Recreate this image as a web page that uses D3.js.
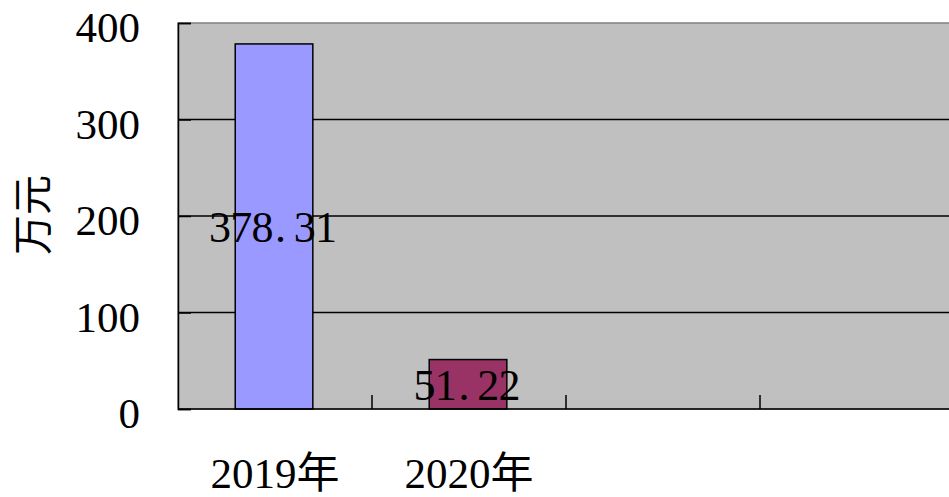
<!DOCTYPE html>
<html>
<head>
<meta charset="utf-8">
<script src="https://cdn.jsdelivr.net/npm/d3@7"></script>
<style>
  html, body { margin: 0; padding: 0; background: #fff; overflow: hidden; }
  svg { display: block; }
</style>
</head>
<body>
<svg id="chart" width="949" height="497"></svg>
<script>
// ---- data ----
const categories = ["2019年", "2020年", "", ""];
const values = [378.31, 51.22];
const valueLabels = ["378.31", "51.22"];
const barColors = ["#9999FF", "#993366"];
const yTicks = [0, 100, 200, 300, 400];
const yTitle = "万元";

// ---- layout ----
const plotL = 178, plotT = 23, plotB = 409, plotR = 954;
const FONT = "'Liberation Serif','Times New Roman','Noto Sans CJK SC',serif";
const fs = 43;
const cell = 21.2;

const svg = d3.select("#chart");

const x = d3.scaleBand().domain(d3.range(categories.length)).range([plotL, plotR]).padding(0);
const y = d3.scaleLinear().domain([0, 400]).range([plotB, plotT]);

// plot background
svg.append("rect")
  .attr("x", plotL).attr("y", plotT)
  .attr("width", plotR - plotL).attr("height", plotB - plotT)
  .attr("fill", "#C0C0C0").attr("stroke", "#808080").attr("stroke-width", 1.5);

// gridlines
svg.append("g").selectAll("line")
  .data(yTicks.filter(t => t > 0 && t < 400))
  .join("line")
  .attr("x1", plotL).attr("x2", plotR)
  .attr("y1", d => y(d)).attr("y2", d => y(d))
  .attr("stroke", "#000").attr("stroke-width", 1.5);

// bars
const bw = x.bandwidth();
svg.append("g").selectAll("rect")
  .data(values)
  .join("rect")
  .attr("x", (d, i) => x(i) + bw * 0.295)
  .attr("width", bw * 0.4)
  .attr("y", d => y(d))
  .attr("height", d => y(0) - y(d))
  .attr("fill", (d, i) => barColors[i])
  .attr("stroke", "#000").attr("stroke-width", 1.5);

// y axis
const yAxis = d3.axisLeft(y).tickValues(yTicks).tickSize(-13).tickPadding(38).tickFormat(d3.format("d"));
const gy = svg.append("g").attr("transform", `translate(${plotL},0)`).call(yAxis);
gy.select(".domain").attr("stroke", "#000").attr("stroke-width", 1.5);
gy.selectAll(".tick line").attr("stroke", "#000").attr("stroke-width", 1.5);
gy.selectAll(".tick text")
  .attr("font-family", FONT).attr("font-size", fs).attr("fill", "#000")
  .attr("dy", "0.43em");

// x axis line + boundary ticks
svg.append("line")
  .attr("x1", plotL).attr("x2", plotR).attr("y1", plotB).attr("y2", plotB)
  .attr("stroke", "#000").attr("stroke-width", 1.5);
svg.append("g").selectAll("line")
  .data(d3.range(1, categories.length))
  .join("line")
  .attr("x1", i => x(i)).attr("x2", i => x(i))
  .attr("y1", plotB).attr("y2", plotB - 14)
  .attr("stroke", "#000").attr("stroke-width", 1.5);

// x labels
const xAxis = d3.axisBottom(x).tickSize(0).tickFormat(i => categories[i]);
const gx = svg.append("g").attr("transform", `translate(0,${plotB})`).call(xAxis);
gx.select(".domain").remove();
gx.selectAll(".tick text")
  .attr("font-family", FONT).attr("font-size", fs).attr("fill", "#000")
  .attr("y", 79).attr("dy", 0);

// value labels: monospaced half-width cells
const lbl = svg.append("g");
values.forEach((v, i) => {
  const s = valueLabels[i];
  const cx = x(i) + bw / 2 - 2;
  const cy = (y(v) + y(0)) / 2;
  const x0 = cx - s.length * cell / 2;
  const t = lbl.append("text")
    .attr("font-family", FONT).attr("font-size", fs + 1).attr("fill", "#000")
    .attr("text-anchor", "middle");
  s.split("").forEach((ch, k) => {
    t.append("tspan")
      .attr("x", x0 + (k + 0.5) * cell - (ch === "." ? 3 : 0))
      .attr("y", cy + 16)
      .text(ch);
  });
});

// y title
svg.append("text")
  .attr("transform", `translate(47,215) rotate(-90)`)
  .attr("text-anchor", "middle")
  .attr("font-family", "'Noto Sans CJK SC',sans-serif")
  .attr("font-size", 40).attr("fill", "#000")
  .text(yTitle);
</script>
</body>
</html>
